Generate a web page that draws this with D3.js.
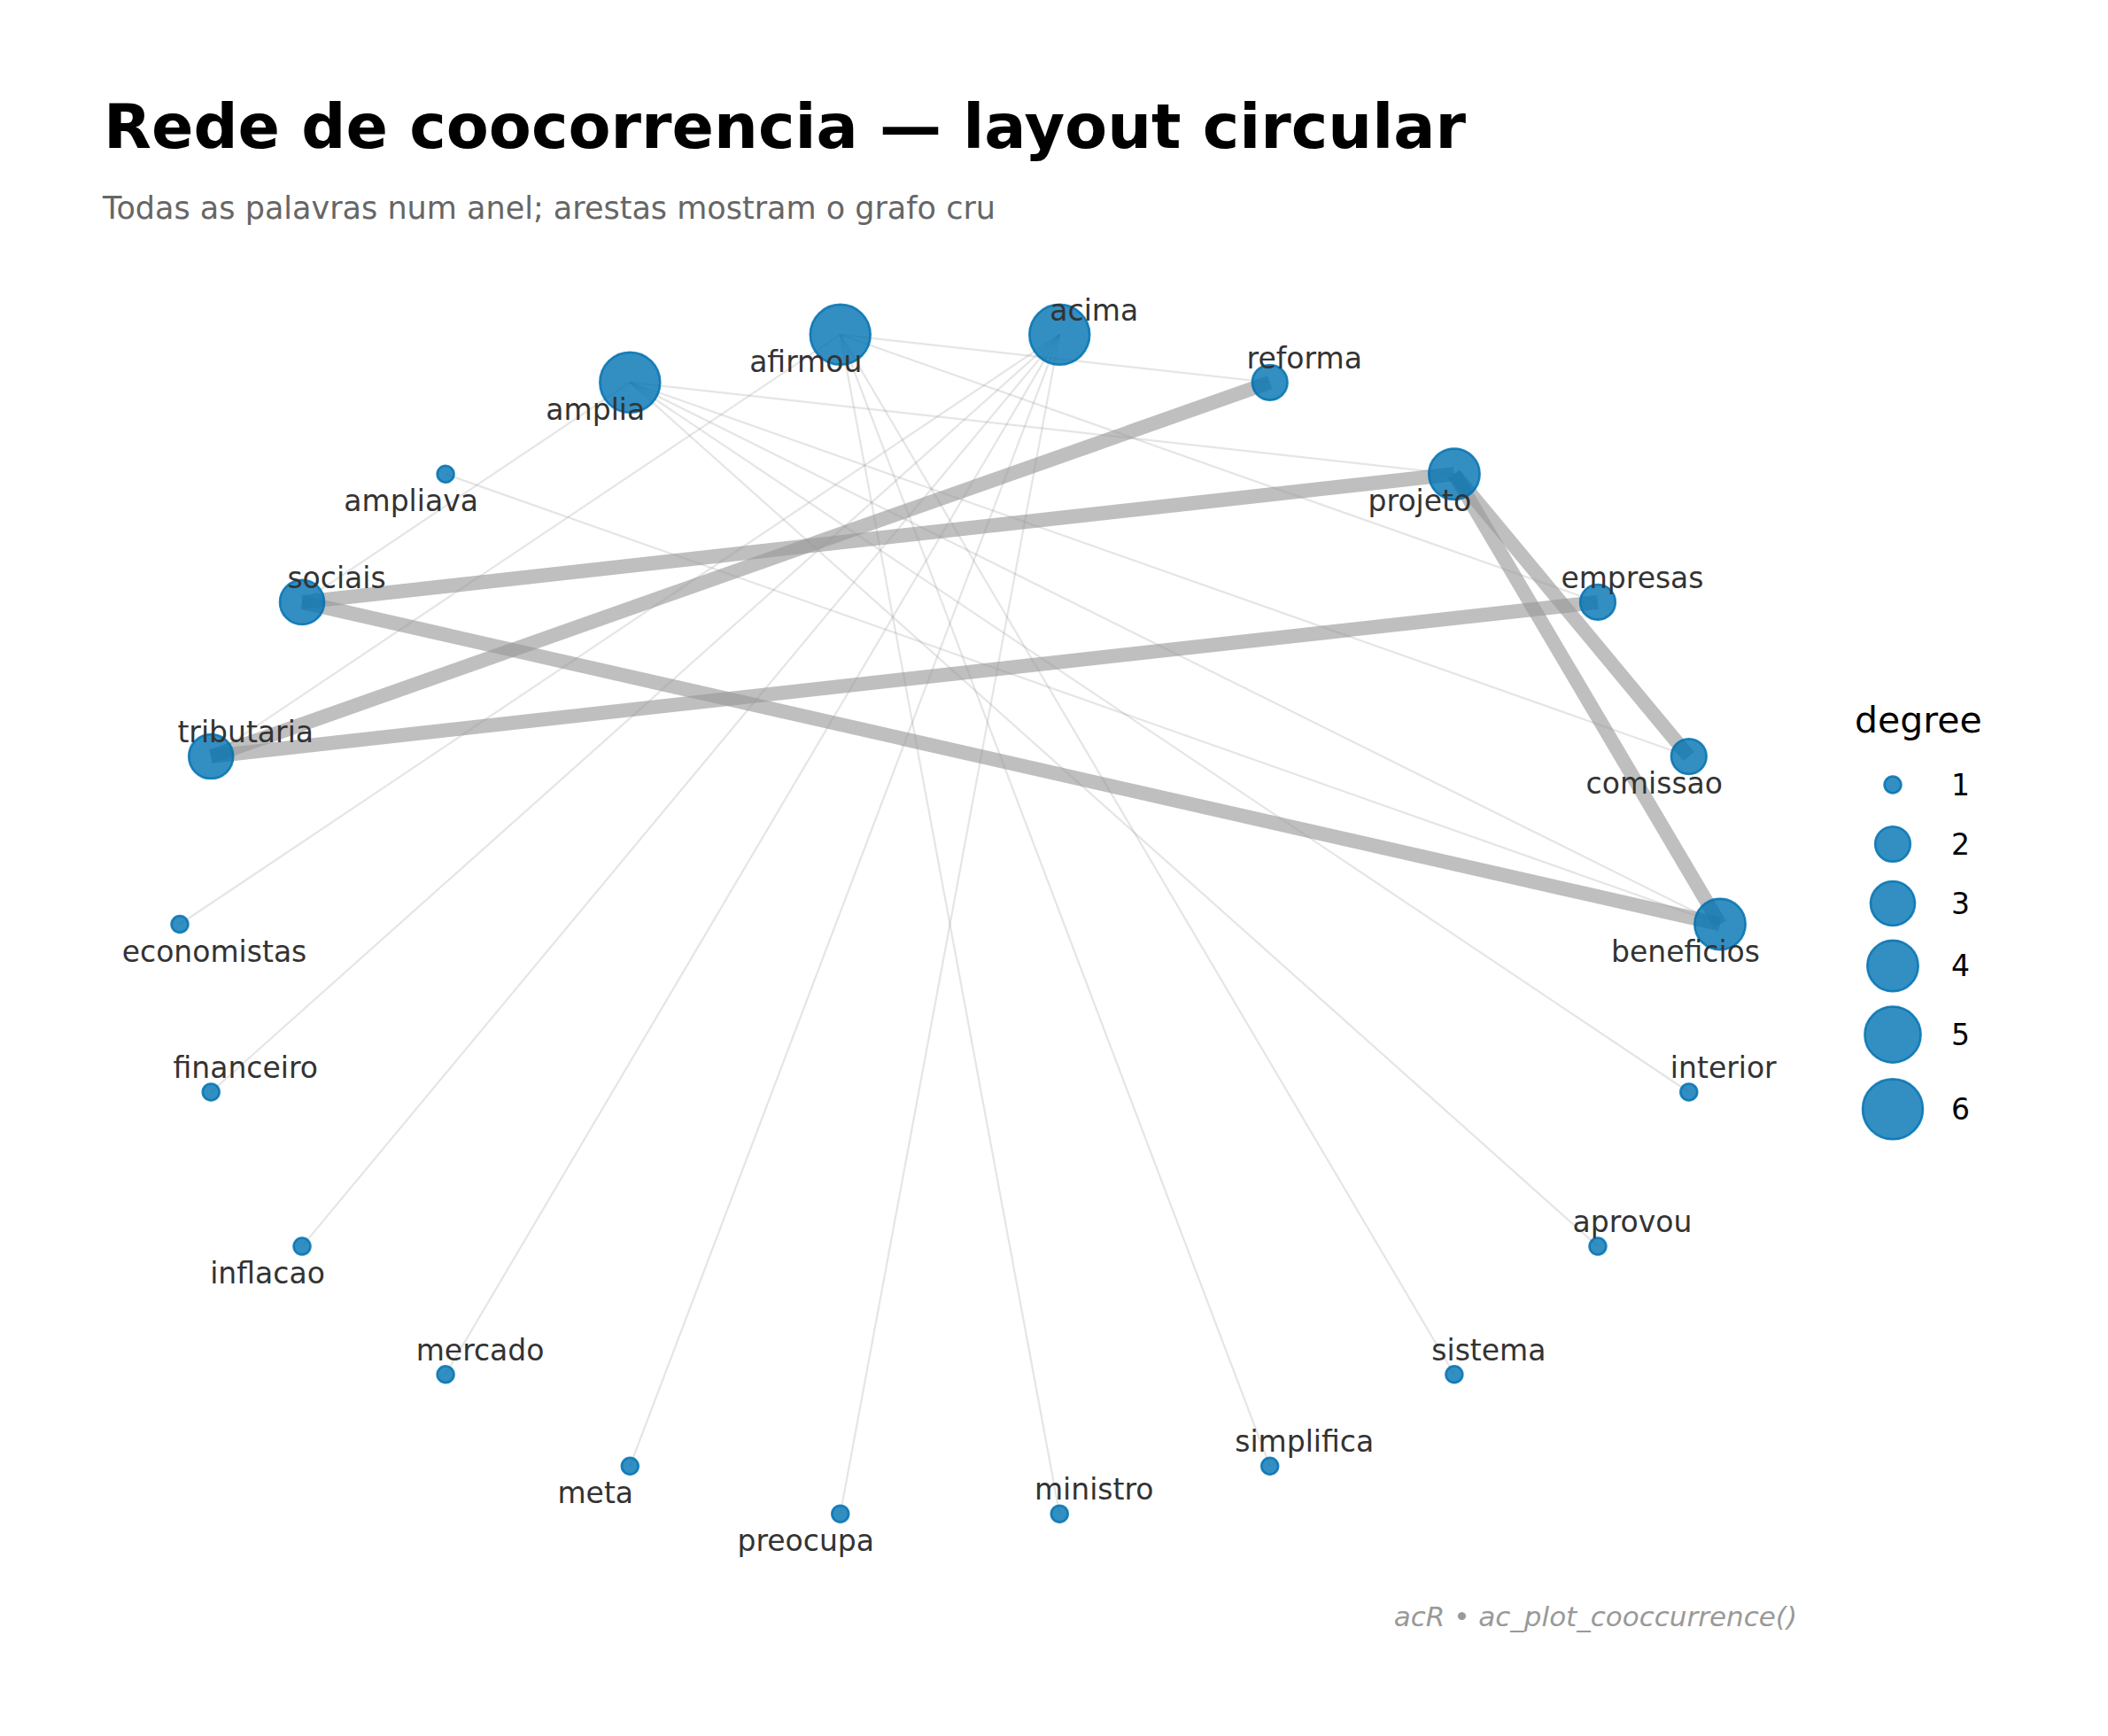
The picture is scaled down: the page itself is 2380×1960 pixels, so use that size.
<!DOCTYPE html>
<html>
<head>
<meta charset="utf-8">
<script src="https://cdn.jsdelivr.net/npm/d3@7"></script>
<style>
  body { margin: 0; background: #fff; }
  text { font-family: "DejaVu Sans", sans-serif; }
</style>
</head>
<body>
<div id="chart"></div>
<script>
// words in ring order (first one sits at angle 0, then counter-clockwise)
var words = ["beneficios", "comissao", "empresas", "projeto", "reforma", "acima",
  "afirmou", "amplia", "ampliava", "sociais", "tributaria", "economistas",
  "financeiro", "inflacao", "mercado", "meta", "preocupa", "ministro",
  "simplifica", "sistema", "aprovou", "interior"];

// where each label sits relative to its node
var labelSide = ["dl", "dl", "ur", "dl", "ur", "ur",
  "dl", "dl", "dl", "ur", "ur", "dr",
  "ur", "dl", "ur", "dl", "dl", "ur",
  "ur", "ur", "ur", "ur"];

// co-occurrence edges: [from, to, weight]
var edges = [
  ["sociais", "projeto", 2],
  ["sociais", "beneficios", 2],
  ["tributaria", "reforma", 2],
  ["tributaria", "empresas", 2],
  ["projeto", "comissao", 2],
  ["projeto", "beneficios", 2],
  ["acima", "economistas", 1],
  ["acima", "financeiro", 1],
  ["acima", "inflacao", 1],
  ["acima", "mercado", 1],
  ["acima", "meta", 1],
  ["acima", "preocupa", 1],
  ["afirmou", "ministro", 1],
  ["afirmou", "simplifica", 1],
  ["afirmou", "sistema", 1],
  ["afirmou", "tributaria", 1],
  ["afirmou", "reforma", 1],
  ["afirmou", "empresas", 1],
  ["amplia", "interior", 1],
  ["amplia", "aprovou", 1],
  ["amplia", "beneficios", 1],
  ["amplia", "comissao", 1],
  ["amplia", "projeto", 1],
  ["amplia", "sociais", 1],
  ["ampliava", "beneficios", 1]
];

var legendDegrees = [1, 2, 3, 4, 5, 6];

var W = 2380, H = 1960;
var blue = "#0072B2";

var svg = d3.select("#chart").append("svg")
  .attr("width", W)
  .attr("height", H);

svg.append("rect").attr("width", W).attr("height", H).attr("fill", "#fff");

// titles
svg.append("text")
  .attr("x", 117).attr("y", 167)
  .style("font-size", "70px").style("font-weight", "bold")
  .attr("fill", "#000")
  .text("Rede de coocorrencia \u2014 layout circular");

svg.append("text")
  .attr("x", 116).attr("y", 247)
  .style("font-size", "35px")
  .attr("fill", "#666")
  .text("Todas as palavras num anel; arestas mostram o grafo cru");

// circular layout
var n = words.length;
var nodes = words.map(function(w, i) {
  var a = 2 * Math.PI * i / n;
  return { name: w, lx: Math.cos(a), ly: Math.sin(a), side: labelSide[i], degree: 0 };
});
var byName = {};
nodes.forEach(function(d) { byName[d.name] = d; });
edges.forEach(function(e) {
  byName[e[0]].degree += 1;
  byName[e[1]].degree += 1;
});

var x = d3.scaleLinear().domain([-1, 1]).range([203, 1942]);
var y = d3.scaleLinear().domain([-1, 1]).range([1716, 371]);

var r = d3.scaleRadial().domain([1, Math.sqrt(6)]).range([9.5, 34]);
var size = function(deg) { return r(Math.sqrt(deg)); };

var ew = d3.scaleLinear().domain([1, 2]).range([2.2, 16]);
var eo = d3.scaleLinear().domain([1, 2]).range([0.25, 0.63]);

svg.append("g").selectAll("line")
  .data(edges)
  .enter()
  .append("line")
  .attr("x1", function(e) { return x(byName[e[0]].lx); })
  .attr("y1", function(e) { return y(byName[e[0]].ly); })
  .attr("x2", function(e) { return x(byName[e[1]].lx); })
  .attr("y2", function(e) { return y(byName[e[1]].ly); })
  .attr("stroke", "#999")
  .attr("stroke-opacity", function(e) { return eo(e[2]); })
  .attr("stroke-width", function(e) { return ew(e[2]); })
  .attr("stroke-linecap", "butt");

svg.append("g").selectAll("circle")
  .data(nodes)
  .enter()
  .append("circle")
  .attr("cx", function(d) { return x(d.lx); })
  .attr("cy", function(d) { return y(d.ly); })
  .attr("r", function(d) { return size(d.degree); })
  .attr("fill", blue)
  .attr("fill-opacity", 0.8)
  .attr("stroke", blue)
  .attr("stroke-opacity", 0.85)
  .attr("stroke-width", 2.5);

svg.append("g").selectAll("text")
  .data(nodes)
  .enter()
  .append("text")
  .attr("x", function(d) { return x(d.lx) + (d.side === "dl" ? -39 : 39); })
  .attr("y", function(d) { return y(d.ly) + (d.side === "ur" ? -16 : 42); })
  .attr("text-anchor", "middle")
  .style("font-size", "33px")
  .attr("fill", "#333")
  .text(function(d) { return d.name; });

// size legend
var legend = svg.append("g");
legend.append("text")
  .attr("x", 2094).attr("y", 827)
  .style("font-size", "41px")
  .attr("fill", "#000")
  .text("degree");

var keyH = legendDegrees.map(function(d) { return Math.max(67, 2.47 * (size(d) + 1.25)); });
var keyY = [];
var cur = 886;
legendDegrees.forEach(function(d, i) {
  if (i > 0) cur += (keyH[i - 1] + keyH[i]) / 2;
  keyY.push(cur);
});

var keys = legend.selectAll("g.key")
  .data(legendDegrees)
  .enter()
  .append("g")
  .attr("class", "key")
  .attr("transform", function(d, i) { return "translate(2137," + keyY[i] + ")"; });

keys.append("circle")
  .attr("r", function(d) { return size(d); })
  .attr("fill", blue)
  .attr("fill-opacity", 0.8)
  .attr("stroke", blue)
  .attr("stroke-opacity", 0.85)
  .attr("stroke-width", 2.5);

keys.append("text")
  .attr("x", 66)
  .attr("dy", "0.36em")
  .style("font-size", "33px")
  .attr("fill", "#000")
  .text(function(d) { return d; });

// caption
svg.append("text")
  .attr("x", 2029).attr("y", 1836)
  .attr("text-anchor", "end")
  .style("font-size", "31px")
  .style("font-style", "italic")
  .attr("fill", "#999")
  .text("acR \u2022 ac_plot_cooccurrence()");
</script>
</body>
</html>
